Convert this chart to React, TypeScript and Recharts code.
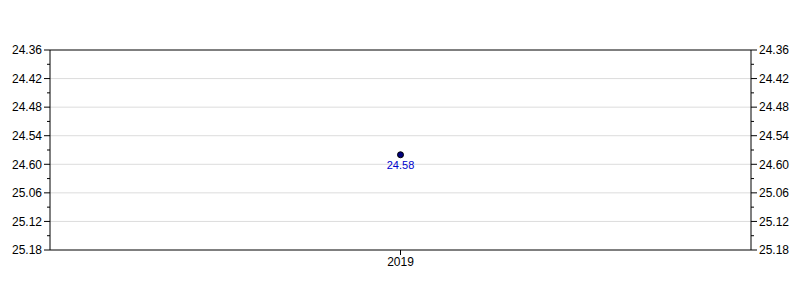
import React from "react";
import {
  LineChart,
  Line,
  XAxis,
  YAxis,
  ReferenceLine,
  LabelList,
} from "recharts";

const years = ["2019"];
const values = [24.58];
const yTicks = [24.36, 24.39, 24.42, 24.45, 24.48, 24.51, 24.54, 24.57, 24.6, 24.63, 24.66, 24.69, 24.72, 24.75, 24.78];
const yTickLabels = ["24.36", "24.42", "24.48", "24.54", "24.60", "25.06", "25.12", "25.18"];
const gridValues = [24.42, 24.48, 24.54, 24.6, 24.66, 24.72];

const data = years.map((y, i) => ({ year: y, value: values[i] }));

const FONT = "'Liberation Sans', Arial, sans-serif";

const makeTick = (side: "left" | "right") => (props: any) => {
  const { x, y, index } = props;
  const major = index % 2 === 0;
  const axisX = side === "left" ? x + 8 : x - 8;
  const len = major ? 6 : 3;
  const x1 = side === "left" ? axisX - len : axisX + len;
  return (
    <g>
      <line x1={axisX} x2={x1} y1={y} y2={y} stroke="#000" strokeWidth={1} />
      {major && (
        <text
          x={x}
          y={y}
          dy="0.36em"
          textAnchor={side === "left" ? "end" : "start"}
          fontSize={12}
          fontFamily={FONT}
          fill="#000"
        >
          {yTickLabels[index / 2]}
        </text>
      )}
    </g>
  );
};

export default function App() {
  return (
    <div style={{ position: "absolute", left: 0, top: 0, width: 800, height: 300, background: "#fff" }}>
      <LineChart
        width={800}
        height={300}
        data={data}
        margin={{ top: 50, right: 0, bottom: 20, left: 0 }}
      >
        <XAxis
          dataKey="year"
          tick={{ fontSize: 12, fontFamily: FONT, fill: "#000" }}
          stroke="#000"
          tickSize={5}
          height={30}
        />
        <YAxis
          yAxisId="left"
          type="number"
          domain={[24.36, 24.78]}
          ticks={yTicks}
          reversed
          interval={0}
          width={50}
          stroke="#000"
          tickLine={false}
          tick={makeTick("left")}
        />
        <YAxis
          yAxisId="right"
          orientation="right"
          type="number"
          domain={[24.36, 24.78]}
          ticks={yTicks}
          reversed
          interval={0}
          width={49}
          stroke="#000"
          tickLine={false}
          tick={makeTick("right")}
        />
        {gridValues.map((v) => (
          <ReferenceLine key={v} yAxisId="left" y={v} stroke="#dcdcdc" strokeWidth={1} />
        ))}
        <ReferenceLine yAxisId="left" y={24.36} stroke="#000" strokeWidth={1} />
        <Line
          yAxisId="right"
          dataKey="value"
          stroke="none"
          dot={false}
          activeDot={false}
          isAnimationActive={false}
        />
        <Line
          yAxisId="left"
          dataKey="value"
          stroke="#000080"
          isAnimationActive={false}
          dot={{ r: 3, fill: "#000080", stroke: "#000", strokeWidth: 1 }}
        >
          <LabelList
            dataKey="value"
            position="bottom"
            offset={6}
            fill="#0000cc"
            fontSize={11}
            fontFamily={FONT}
          />
        </Line>
      </LineChart>
    </div>
  );
}
